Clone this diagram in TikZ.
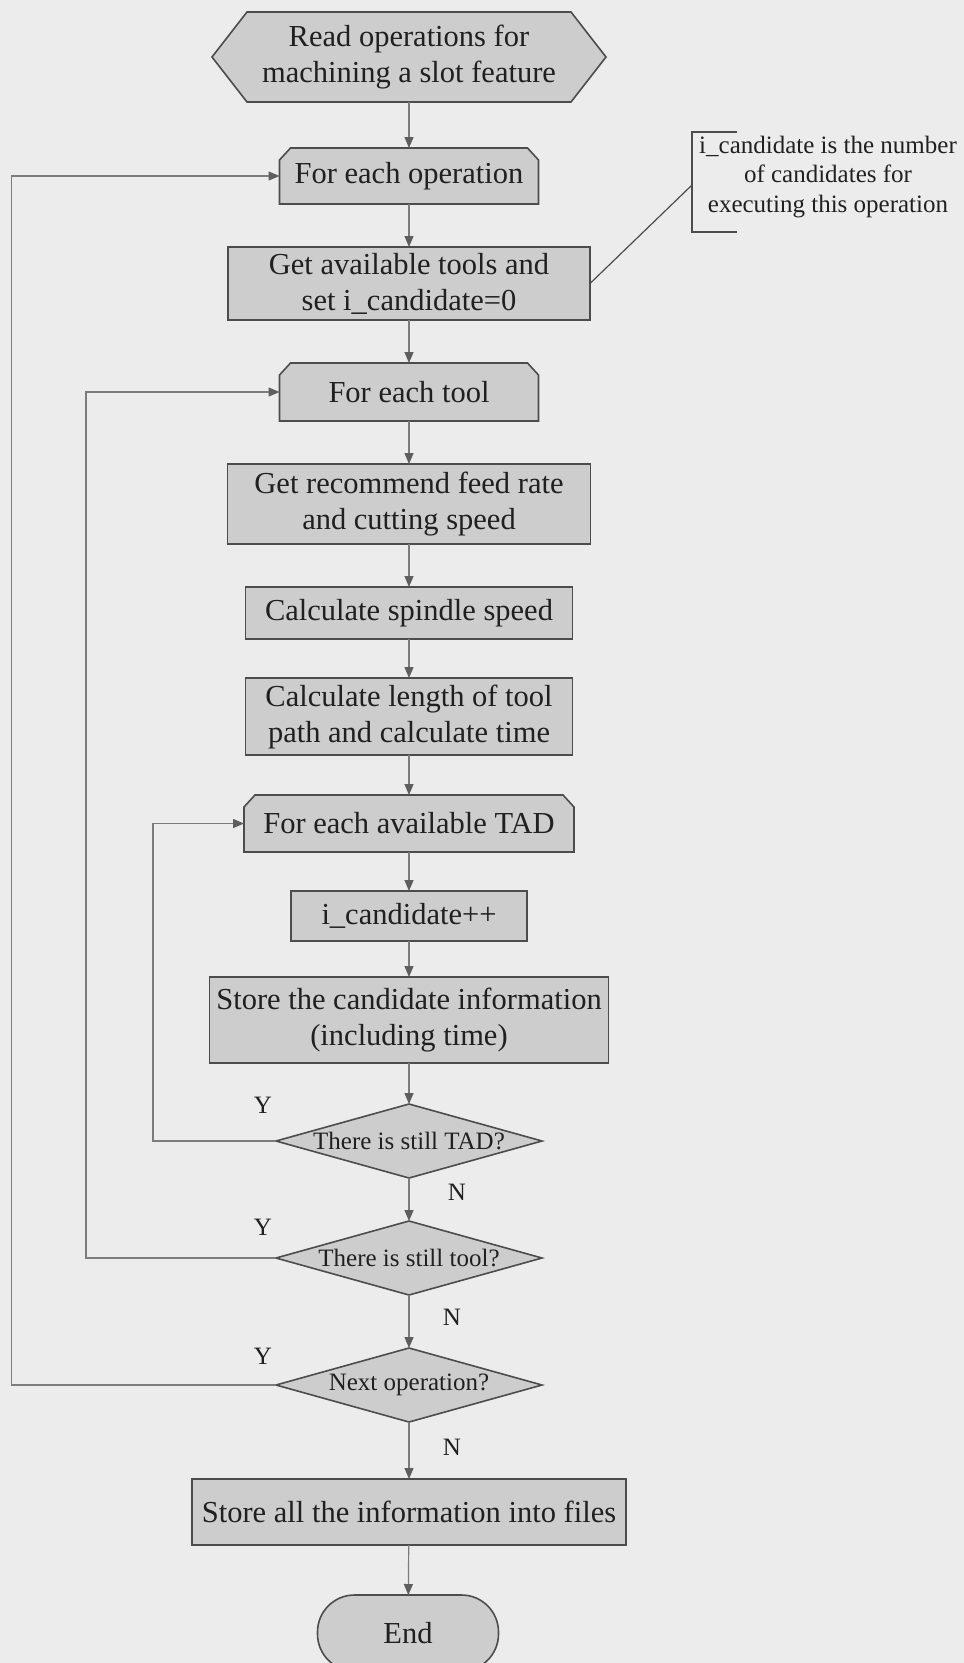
\documentclass[tikz,border=0pt]{standalone}
\usepackage{fontspec}
\setmainfont{Liberation Serif}
\usetikzlibrary{arrows.meta,calc,backgrounds}

\definecolor{paper}{HTML}{ECECEC}
\definecolor{boxfill}{HTML}{CDCDCD}
\definecolor{boxline}{HTML}{4C4C4C}
\definecolor{wire}{HTML}{7C7C7C}
\definecolor{tipcol}{HTML}{5E5E5E}
\definecolor{ink}{HTML}{202020}

\begin{document}
\begin{tikzpicture}[x=1pt,y=-1pt,
  every node/.style={text=ink, inner sep=0pt, outer sep=0pt, align=center},
  bigtext/.style={font=\fontsize{30.5}{36}\selectfont},
  smalltext/.style={font=\fontsize{25}{29.5}\selectfont},
  outline/.style={draw=boxline, fill=boxfill, line width=1.6pt, line join=miter},
  procbox/.style={bigtext, outline, rectangle},
  slot/.style={bigtext, rectangle},
  decision/.style={smalltext, rectangle, minimum width=266pt, minimum height=74pt},
  flow/.style={draw=wire, line width=1.2pt, -{Triangle[length=11pt,width=9pt,color=tipcol]}},
  noteline/.style={draw=boxline, line width=1.2pt},
  yn/.style={smalltext},
]
\useasboundingbox (0,0) rectangle (964,1663);

% process steps
\node[slot, minimum width=394pt, minimum height=90pt] (read) at (409,57) {Read operations for\\machining a slot feature};
\node[slot, minimum width=259pt, minimum height=56pt] (eachop) at (409,176) {For each operation};
\node[procbox, minimum width=362pt, minimum height=73pt] (gettools) at (409,283.5) {Get available tools and\\set i\_candidate=0};
\node[slot, minimum width=259pt, minimum height=58pt] (eachtool) at (409,392) {For each tool};
\node[procbox, minimum width=363pt, minimum height=80pt] (feed) at (409,504) {Get recommend feed rate\\and cutting speed};
\node[procbox, minimum width=327pt, minimum height=52pt] (spindle) at (409,613) {Calculate spindle speed};
\node[procbox, minimum width=327pt, minimum height=77pt] (pathlen) at (409,716.5) {Calculate length of tool\\path and calculate time};
\node[slot, minimum width=330pt, minimum height=57pt] (eachtad) at (409,823.5) {For each available TAD};
\node[procbox, minimum width=236pt, minimum height=50pt] (incr) at (409,916) {i\_candidate++};
\node[procbox, minimum width=399pt, minimum height=86pt] (storecand) at (409,1020) {Store the candidate information\\(including time)};

% decisions
\node[decision] (dtad) at (409,1141) {There is still TAD?};
\node[decision] (dtool) at (409,1258) {There is still tool?};
\node[decision] (dop) at (409,1385) {Next operation?};

\node[procbox, minimum width=434pt, minimum height=66pt] (storeall) at (409,1512) {Store all the information into files};
\node[bigtext, outline, rectangle, rounded corners=37pt, minimum width=181pt, minimum height=76pt] (finish) at (408,1633) {End};

% annotation
\node[smalltext] (note) at (828,177) {i\_candidate is the number\\of candidates for\\executing this operation};
\coordinate (notehook) at (692,185);
\draw[noteline] (737,132) -- (692,132) -- (692,232) -- (737,232);
\draw[noteline] (gettools.east) -- (notehook);

% outlines of the special shapes, behind the text
\begin{scope}[on background layer]
  \fill[paper] (0,0) rectangle (964,1663);
  \path[outline] ($(read.north west)+(35pt,0)$) -- ($(read.north east)+(-35pt,0)$) -- (read.east)
    -- ($(read.south east)+(-35pt,0)$) -- ($(read.south west)+(35pt,0)$) -- (read.west) -- cycle;
  \foreach \n in {eachop,eachtool,eachtad}
    \path[outline] (\n.south west) -- ($(\n.north west)+(0,-12pt)$) -- ($(\n.north west)+(11pt,0)$)
      -- ($(\n.north east)+(-11pt,0)$) -- ($(\n.north east)+(0,-12pt)$) -- (\n.south east) -- cycle;
  \foreach \n in {dtad,dtool,dop}
    \path[outline] (\n.north) -- (\n.east) -- (\n.south) -- (\n.west) -- cycle;
\end{scope}

% main flow
\draw[flow] (read) -- (eachop);
\draw[flow] (eachop) -- (gettools);
\draw[flow] (gettools) -- (eachtool);
\draw[flow] (eachtool) -- (feed);
\draw[flow] (feed) -- (spindle);
\draw[flow] (spindle) -- (pathlen);
\draw[flow] (pathlen) -- (eachtad);
\draw[flow] (eachtad) -- (incr);
\draw[flow] (incr) -- (storecand);
\draw[flow] (storecand) -- (dtad);
\draw[flow] (dtad) -- (dtool);
\draw[flow] (dtool) -- (dop);
\draw[flow] (dop) -- (storeall);
\draw[flow] (storeall) -- (finish);

% loop-back connectors
\coordinate (tadrail) at (153,0);
\coordinate (toolrail) at (86,0);
\coordinate (oprail) at (11.5,0);
\draw[flow] (dtad.west) -- (dtad.west -| tadrail) |- (eachtad.west);
\draw[flow] (dtool.west) -- (dtool.west -| toolrail) |- (eachtool.west);
\draw[flow] (dop.west) -- (dop.west -| oprail) |- (eachop.west);

% branch labels
\node[yn] (y1) at (263,1105) {Y};
\node[yn] (y2) at (263,1227) {Y};
\node[yn] (y3) at (263,1356) {Y};
\node[yn] (n1) at (457,1192) {N};
\node[yn] (n2) at (452,1317) {N};
\node[yn] (n3) at (452,1447) {N};
\end{tikzpicture}
\end{document}
